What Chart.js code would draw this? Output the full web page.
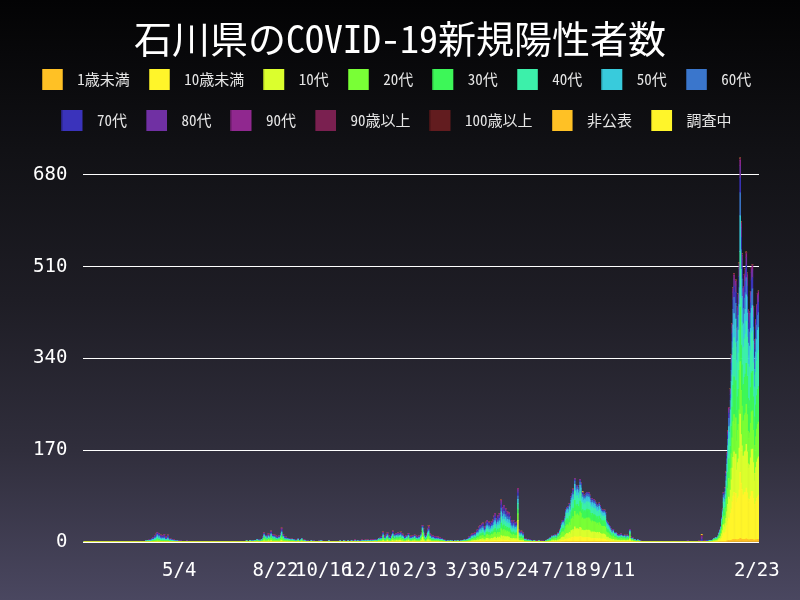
<!DOCTYPE html>
<html lang="ja">
<head>
<meta charset="utf-8">
<title>石川県のCOVID-19新規陽性者数</title>
<script src="https://cdn.jsdelivr.net/npm/chart.js@4.4.1/dist/chart.umd.min.js"></script>
<style>
  html, body { margin: 0; padding: 0; background: #1b1a21; }
  #wrap { width: 800px; height: 600px; }
</style>
</head>
<body>
<div id="wrap"><canvas id="myChart" width="800" height="600"></canvas></div>
<script>
// daily new cases, one list per age group: [first day, counts for consecutive days]
const seriesLabels = ["1歳未満", "10歳未満", "10代", "20代", "30代", "40代", "50代", "60代",
  "70代", "80代", "90代", "90歳以上", "100歳以上", "非公表", "調査中"];
const seriesColors = ["#ffc125", "#fff52a", "#dbff2d", "#79ff36", "#3df758", "#3cf0aa", "#38cbdc", "#3a76cc",
  "#3a33bb", "#7030a3", "#90288f", "#7a2050", "#621c1f", "#ffc125", "#fff52a"];

const tickDates = ["2020-05-04", "2020-08-22", "2020-10-16", "2020-12-10", "2021-02-03",
  "2021-03-30", "2021-05-24", "2021-07-18", "2021-09-11", "2022-02-23"];

const under1 = [
  ["2021-04-20", [1]], ["2021-05-09", [1]], ["2021-05-14", [1]],
  ["2021-07-13", [0,0,0,0,0,0,1, 0,1,0,1,1,0, 1,1,1,0, 1,1, 1,1,1,1, 1,1, 1,1,1,1,1,1, 1,1,1,1,
    1,0,1,1,1,0, 1,1,1,0,1,1, 0,1,0,1,0,1, 0,0,1,0,0]],
  ["2021-12-31", [0,0,0,0,0,0,0,0,0,0, 0,0,0,0,0,1,1,1,1,1, 2,2,3,2,3,3,4,5,5,4,
    5,4,4,5,5,7,6,5,5,5, 5,5,6,5,4,4,4,5,5,5, 4,3,4,4,4,5,5]]
];

const under10 = [
  ["2020-08-17", [1]], ["2020-08-29", [1]],
  ["2020-12-17", [0,0,0,0,0,0,1,0,0,0,0,1,0,0,0,
    0,0,1,0,0,0,1,0,1,0,1,1,0,0,0,0,0,0,1,0,1,0,0,0,0,1,0,0,0,0,0,
    0,0,0,0,1,1,1,0,0,0,0,1,1,0,0,0,0,0,0,0,0,0,0,0,0,0,0,0]],
  ["2021-03-30", [0,0,0,0,1,1,1,1,1,1, 1,1,1,1,2,1,2,2,1,1, 1,2,2,2,2,1,2,2,2, 2,3,3,2,2,3,2,3,2,
    4, 3,3,3,3,3, 3,3,3,3,2, 2,2,2,2,2,2,2, 2,4, 1,1,1,1,1,1]],
  ["2021-07-03", [0,1,0,1,0,1,0,1,1,1, 2,2,3,3,3,3,4, 5,5,5,5,6,5, 7,7,8,7, 9,8, 8,8,8,8, 9,9,
    7,7,7,7,7,7, 7,7,7,7, 6,6,6,6,6,6, 6,5,6,5,6,5, 5,5,5,5,5,4, 3,3,3,2,2, 2,2,1,2,1,1,1,1,
    1,1,1,1,1,1,1,1,1,1,1,1,1,1,2, 1,0,1,0,0,0,0,0,0,0,0,0,0,0,0,0,0,0,0]],
  ["2021-12-31", [0,0,0,0,0,1,0,1,1,1, 2,3,3,5,7,10,16,14,17,23, 28,36,42,41,50,59,71,80,87,79,
    85,69,77,79,91,122,103,92,83,82, 87,87,94,86,76,70,75,80,89,89, 77,58,66,71,77,79,82]]
];

const teens = [
  ["2020-04-09", [1]],
  ["2020-07-18", [0,0,0,0,0,0,0,0,0,0,0,0,0,0,1,0,0,0,0,1,0,
    1,2,1,1,1,1,2,1,1,2,1,1,1,1,1,1,1,1,1,1,2,2,1,1,1,1,1,0,1,0,1,
    0,0,1,0,0,0,0,0,0,1,0,0,0,1,0,0,0,0,0,0]],
  ["2020-12-17", [0,1,0,1,1,1,2,1,1,1,1,2,1,1,1,
    1,2,2,1,2,1,2,1,2,1,2,2,1,2,1,1,1,1,1,1,2,1,1,1,1,1,1,2,1,1,1,
    1,1,1,2,2,8,3,2,1,1,2,3,3,2,2,1,1,1,1,1,1,1,1,1,0,1,0,1, 0,0,0,0,0,0]],
  ["2021-03-29", [1, 0,1,1,1,1,1,1,2,2,1, 2,3,2,3,3,3,4,4,3,3, 3,4,5,4,4,3,4,5,4, 5,5,6,5,5,6,5,6,5,
    8, 6,7,8,6,7, 6,6,6,6,5, 5,4,4,5,4,4,4, 4,36, 2,2,2,2,1,2]],
  ["2021-06-29", [1,0,1,1]],
  ["2021-07-03", [1,2,1,2,1,2,1,2,3,2, 3,4,5,6,6,5,7, 9,10,10,9,11,10, 13,13,14,13, 18,16, 15,16,15,14,
    17,16, 13,14,13,13,13,14, 14,13,14,13, 12,11,12,11,12,12, 11,10,11,10,11,10, 9,9,9,9,9,8,
    6,5,5,5,4, 4,3,3,3,3,2,3,2, 2,2,2,1,2,2,1,2,2,1,1,2,1,2,4, 1,1,1,0,1,1,1,0,1,0,0,0,0,0,0,0,0,0,0]],
  ["2021-12-31", [0,0,0,1,0,1,1,1,1,1, 2,3,4,5,8,10,15,13,16,20, 26,32,38,36,43,53,62,72,75,71,
    73,60,66,70,78,108,90,81,71,72, 75,77,81,76,65,62,64,71,77,78, 66,52,57,63,67,70,71]]
];

const age20s = [
  ["2020-03-27", [1,0,1,0,1,0,1,1,2,1, 2,2,2,3,2,3,2,2,1,2, 1,2,1,2,1,2,1,1,1,0, 1,0,1,0,0,1,0,0,0,0, 1,0,0]],
  ["2020-07-18", [1,0,1,0,0,0,1,1,0,1,0,1,1,0,1,1,1,0,1,1,1,
    2,4,2,3,2,2,3,2,3,4,3,3,2,3,2,2,2,2,3,2,3,5,3,3,2,2,2,1,2,1,1,
    1,1,1,1,1,1,0,1,1,1,1,0,1,2,1,0,1,1,0,0]],
  ["2020-09-28", [1,0,0,1,1,0,0,1,0,0,0,0,0,1,0,1,1,0,0,0,0,0,1,0,1,0,0,0,0,0,1,0,0,0,
    0,1,0,1,0,0,0,1,1,0,0,0,1,0,0,1,1,0,1,0,1,1,0,1,1,0,1,0,1,1,
    1,1,1,0,1,1,1,1,1,1,1,1,1,2,1,1]],
  ["2020-12-17", [1,2,1,2,2,2,4,2,2,1,3,3,2,2,2,
    2,3,4,2,3,2,3,2,3,2,3,4,2,3,3,2,2,2,2,2,3,2,2,2,1,2,2,3,2,2,2,
    2,2,2,3,4,7,5,3,2,2,3,4,6,3,3,2,2,2,2,2,1,2,1,2,1,1,1,1, 1,1,1,0,1,0]],
  ["2021-03-07", [1,0,0,1,0,1,0,0,1,0,0,1,1,0,0,1,0,1,1,1,1,0,1,
    1,2,2,2,2,3,2,3,3,2, 4,4,4,5,6,5,6,6,5,5, 5,6,7,6,7,5,6,7,7, 8,9,9,8,7,9,8,9,8, 13,
    10,11,12,10,11, 9,10,9,10,9, 7,7,6,7,6,6,6, 7,12, 4,4,3,4,3,3,
    2,1,2,1,1,1,1,1,1,0,1,1,1,0,0,1,0,1,0,0,1,0,1,0,0,1,1,1,1,2,2]],
  ["2021-07-03", [2,3,2,3,3,4,2,3,5,4, 6,7,9,10,10,8,11, 15,16,17,15,18,16, 21,23,24,22, 29,26,
    25,27,25,24, 29,27, 22,23,21,22,21,22, 23,22,23,22, 20,19,20,19,19,19, 18,17,17,16,18,17,
    16,14,15,14,15,14, 10,9,8,8,7, 6,5,4,6,4,4,4,3, 3,2,3,2,4,3,2,3,3,2,2,3,2,2,5,
    2,1,2,1,1,1,0,1,1,0,1,0,0,1,0,0,1,0,0]],
  ["2021-10-24", [1]], ["2021-11-06", [1]], ["2021-12-10", [1]],
  ["2021-12-31", [1,1,0,1,1,2,1,2,2,2, 3,4,5,6,9,11,15,13,15,19, 24,29,35,33,40,49,56,66,69,64,
    67,55,60,64,71,97,82,74,65,66, 68,70,74,69,60,56,59,64,70,71, 60,47,52,57,61,64,64]]
];

const age30s = [
  ["2020-03-27", [0,0,1,0,0,1,0,1,1,1, 1,1,2,2,1,2,1,1,1,1, 1,1,1,1,0,1,1,0,1,1, 0,1,0,0,1,0,0,0,0,0, 0,0,0]],
  ["2020-06-23", [1]],
  ["2020-07-18", [0,0,1,0,0,1,1,0,0,0,0,1,0,0,1,0,1,0,0,1,1,
    2,3,1,2,1,2,2,2,2,3,2,2,2,2,1,2,1,1,2,1,2,4,2,2,1,1,1,1,1,1,1,
    1,1,1,0,1,1,0,0,1,1,0,0,1,1,0,0,1,0,0,0]],
  ["2020-12-17", [1,1,0,1,1,1,2,1,2,1,2,2,1,2,1,
    1,2,3,1,2,1,2,2,2,1,2,2,2,2,2,1,1,2,2,1,2,1,1,2,1,2,1,2,1,2,1,
    1,2,1,2,2,5,3,2,2,1,2,3,4,2,2,2,1,2,1,1,1,1,1,1,1,1,0,1, 1,0,1,0,0,0]],
  ["2021-03-07", [0,1,0,1,0,0,0,1,0,0,0,1,0,0,1,0,0,1,0,1,1,1,1,
    1,1,1,1,2,2,1,2,2,2, 3,3,3,4,4,3,4,5,4,3, 4,5,5,4,5,4,4,5,5, 5,6,7,6,5,6,6,7,6, 10,
    8,8,9,7,8, 7,7,6,7,6, 5,5,5,5,4,5,4, 5,9, 3,3,2,3,2,2,
    1,1,1,1,1,1,0,1,0,0,0,1,0,0,0,0,0,1,0,0,0,0,0,0,0,1,0,1,1,1,2]],
  ["2021-07-03", [1,2,1,2,2,2,2,2,3,3, 4,5,6,6,7,6,8, 10,11,11,10,12,11, 14,15,16,15, 20,18,
    17,18,17,16, 20,19, 15,15,14,15,14,15, 16,15,15,15, 14,13,14,13,13,13, 12,12,12,11,12,11,
    11,10,10,10,10,9, 7,6,6,5,5, 4,3,3,4,3,3,3,2, 2,2,2,2,2,2,1,2,2,1,2,2,1,2,4,
    1,1,1,1,1,1,0,0,1,0,0,1,0,0,0,0,0,0,0]],
  ["2021-10-29", [1]], ["2021-11-20", [1]],
  ["2021-12-31", [1,0,1,0,1,1,1,2,1,2, 2,3,4,5,8,10,14,13,15,19, 24,30,36,34,41,50,57,67,70,66,
    69,56,62,65,73,101,84,76,66,67, 70,72,76,71,61,57,60,66,72,73, 62,48,53,59,62,65,66]]
];

const age40s = [
  ["2020-02-23", [1]],
  ["2020-03-27", [1,0,0,1,1,0,1,1,1,1, 2,2,2,3,2,2,2,2,1,2, 2,2,1,1,1,2,1,1,1,1, 1,0,1,1,0,0,1,0,1,0, 0,0,0]],
  ["2020-07-18", [0,0,0,1,0,0,1,0,1,0,0,0,1,0,1,0,0,0,0,1,0,
    1,2,1,2,1,1,2,1,2,2,1,2,1,2,1,1,1,1,1,1,2,3,2,2,1,1,1,1,1,1,1,
    1,0,1,1,1,0,1,0,0,1,1,0,1,1,0,1,0,0,1,0]],
  ["2020-09-28", [0,1,0,0,1,0,0,0,1,0,0,1,0,0,0,1,0,1,0,0,0,0,0,0,1,0,0,0,0,0,0,0,0,0,
    0,0,0,1,0,0,0,1,0,0,0,0,1,0,0,0,1,0,0,1,1,0,0,1,0,1,0,0,1,0,
    1,0,1,0,1,1,0,1,1,0,1,1,1,1,1,1]],
  ["2020-12-17", [1,1,1,1,1,1,2,1,1,1,2,2,1,1,1,
    1,2,2,1,2,1,2,1,2,1,2,2,1,2,2,1,1,1,1,1,2,1,1,1,1,1,1,2,1,1,1,
    1,1,1,2,2,3,3,2,1,1,2,3,3,2,2,1,1,2,1,1,1,1,1,1,1,1,1,1, 1,0,1,0,0,0]],
  ["2021-03-07", [1,0,0,0,1,0,0,0,1,0,0,0,0,0,0,1,0,0,1,1,0,0,1,
    1,1,2,1,2,2,2,2,2,2, 3,3,3,4,4,4,5,5,4,4, 4,5,6,5,5,4,5,5,5, 6,7,7,6,6,7,7,7,6, 11,
    8,9,10,8,9, 7,8,7,8,7, 6,5,5,6,5,5,5, 5,10, 3,3,3,3,2,2,
    1,1,1,1,0,1,0,1,1,0,0,0,1,0,0,0,0,0,0,0,0,1,0,0,0,0,0,1,0,1,1]],
  ["2021-07-03", [1,1,1,2,1,2,1,2,2,2, 3,4,5,6,6,5,7, 9,10,10,9,10,10, 13,14,15,13, 18,16,
    15,16,15,15, 17,17, 13,14,13,13,13,14, 14,13,14,13, 12,12,12,11,12,12, 11,10,10,10,11,10,
    10,9,9,8,9,8, 6,6,5,5,4, 4,3,3,3,3,2,3,2, 2,2,2,2,2,2,1,1,2,1,1,2,1,2,3,
    1,1,1,0,0,1,0,1,0,0,1,0,0,0,0,0,0,0,0]],
  ["2021-11-02", [1]], ["2021-12-03", [1]],
  ["2021-12-16", [0,0,0,0,0,0,0,0,0,0,0,1,1,1,1]],
  ["2021-12-31", [0,1,0,1,1,1,1,1,1,1, 1,2,3,4,6,9,13,12,15,19, 25,30,37,35,42,51,59,69,72,68,
    70,57,63,67,75,103,86,78,68,69, 72,74,78,72,63,59,62,68,74,75, 63,49,54,60,64,67,67]]
];

const age50s = [
  ["2020-02-21", [1,0,0,0,0,1,0,1]],
  ["2020-03-27", [0,1,1,0,1,1,1,1,1,1, 2,2,2,3,2,3,2,2,2,2, 2,2,1,1,1,2,1,1,1,1, 1,1,0,0,1,0,1,0,0,1, 0,0,0]],
  ["2020-05-15", [1]],
  ["2020-07-18", [0,0,0,0,0,0,0,1,0,1,0,1,0,1,0,0,1,0,1,0,0,
    1,2,1,2,1,1,2,1,1,2,1,2,1,1,1,1,1,1,1,1,2,3,1,2,1,1,1,1,1,1,1,
    1,1,1,0,1,1,0,1,1,1,0,1,1,1,1,0,1,1,0,0]],
  ["2020-12-17", [1,1,0,1,1,1,2,1,1,1,2,2,1,1,1,
    1,2,2,1,2,1,2,2,2,1,2,2,2,2,1,1,1,1,2,1,2,1,1,1,1,1,1,1,1,1,1,
    1,2,1,2,2,2,3,2,2,1,2,3,3,2,1,1,1,1,1,1,1,1,1,1,1,1,1,1, 1,1,0,1,0,0]],
  ["2021-03-07", [0,0,0,1,0,1,0,0,0,0,1,0,1,0,0,0,1,0,0,1,0,0,1,
    1,1,1,1,2,2,1,2,2,2, 3,3,3,4,4,3,4,4,4,3, 4,5,5,4,5,4,4,5,5, 5,6,7,6,5,6,6,7,6, 10,
    7,8,9,7,8, 7,7,6,7,6, 5,5,4,5,4,5,4, 5,8, 3,2,2,2,2,2,
    1,1,1,0,0,1,0,0,0,0,0,0,0,0,0,0,1,0,0,0,0,0,0,0,1,0,0,0,0,1,1]],
  ["2021-07-03", [1,1,0,1,1,1,1,1,1,1, 2,3,3,4,4,3,5, 6,6,7,6,7,7, 8,9,10,9, 12,10,
    10,11,10,10, 12,11, 9,9,8,9,9,9, 9,9,9,9, 8,8,8,7,8,8, 7,7,7,7,7,7,
    6,6,6,6,6,6, 4,4,3,3,3, 2,2,2,2,2,2,2,2, 1,1,1,1,1,1,1,1,1,1,1,1,1,1,2,
    1,0,0,0,1,0,0,0,1,0,0,0,0,0,0,0,0,0,0]],
  ["2021-12-31", [1,0,0,0,1,0,1,1,1,1, 1,1,2,2,4,5,8,8,9,12, 15,19,23,22,26,32,37,43,45,42,
    44,36,40,42,47,66,54,49,43,43, 45,46,49,45,39,37,39,42,46,47, 40,31,34,38,40,42,42]]
];

const age60s = [
  ["2020-03-10", [1]], ["2020-03-21", [1]],
  ["2020-03-27", [0,0,0,1,0,1,1,1,1,1, 2,1,2,2,2,2,1,2,1,1, 1,2,1,1,1,2,1,0,1,0, 1,0,1,0,0,1,0,1,0,0, 0,1,0]],
  ["2020-05-13", [1]],
  ["2020-07-18", [0,0,0,0,0,0,0,0,0,0,0,0,0,0,1,1,1,0,0,0,1,
    1,1,1,1,1,1,1,1,1,2,1,1,1,1,1,1,0,1,1,1,2,2,1,1,1,1,1,1,0,1,0,
    1,0,0,0,1,0,0,0,0,1,0,0,0,0,0,1,0,0,1,0]],
  ["2020-09-28", [1,0,0,0,1,0,0,1,0,0,0,0,0,1,0,0,1,0,0,1,0,0,0,0,0,1,0,0,1,0,0,0,0,1,
    0,0,0,0,1,0,0,1,0,1,0,0,0,1,0,0,1,1,0,0,1,1,0,0,1,0,1,1,1,0,
    0,1,1,0,0,1,1,0,1,0,1,0,1,1,0,1]],
  ["2020-12-17", [0,1,1,1,1,1,2,1,1,1,1,2,1,1,1,
    1,1,2,1,1,1,1,1,2,1,1,2,1,1,1,1,1,1,1,1,1,1,1,1,0,1,1,1,1,1,0,
    1,1,1,1,2,2,2,1,1,1,1,2,3,2,1,1,1,1,1,1,1,1,0,1,0,1,1,0, 0,1,0,1,1,0]],
  ["2021-03-07", [0,0,0,0,0,0,0,0,0,0,0,1,0,0,0,0,0,1,0,0,0,1,0,
    1,1,1,1,1,1,1,1,2,1, 2,2,2,2,3,2,3,3,2,2, 3,3,4,3,3,2,3,3,3, 4,4,5,4,4,4,4,5,4, 7,
    5,6,6,5,5, 5,5,4,5,4, 4,3,3,4,3,3,3, 3,6, 2,2,2,2,1,2,
    1,0,0,0,1,0,1,0,0,1,0,0,0,0,0,0,0,0,0,0,0,0,0,0,0,0,0,0,1,0,1]],
  ["2021-07-03", [0,1,0,1,0,1,0,1,1,1, 1,1,2,2,2,2,2, 3,3,3,3,4,3, 4,5,5,4, 6,5,
    5,5,5,5, 6,6, 4,5,4,4,4,5, 5,4,5,4, 4,4,4,4,4,4, 4,3,4,3,4,3,
    3,3,3,3,3,3, 2,2,2,2,2, 1,1,1,1,1,1,1,1, 1,1,1,0,1,0,1,0,1,1,1,0,1,0,1,
    0,1,0,0,0,0,1,0,0,0,0,0,0,0,0,0,0,0,0]],
  ["2021-11-12", [1]], ["2021-12-01", [1]],
  ["2021-12-16", [0,0,0,0,0,0,2,1,0,0,1,0,1,0,1]],
  ["2021-12-31", [0,0,0,0,0,0,0,0,0,0, 1,1,1,1,2,3,5,5,6,8, 10,12,15,14,17,21,25,29,30,28,
    29,24,26,28,31,43,36,32,29,29, 30,31,32,30,26,25,26,28,31,31, 26,21,23,25,27,28,28]]
];

const age70s = [
  ["2020-03-27", [0,0,0,0,1,0,1,1,1,1, 1,1,2,2,2,2,1,2,1,2, 1,2,1,1,1,2,1,1,0,1, 0,1,0,1,0,0,1,0,0,0, 1,0,0]],
  ["2020-05-13", [1]], ["2020-05-29", [1]],
  ["2020-07-18", [0,0,0,0,0,0,0,0,0,0,0,0,0,0,0,0,0,1,0,0,0,
    1,1,0,1,1,1,1,1,1,2,1,1,1,1,0,1,1,1,1,1,1,2,1,1,1,1,1,0,1,0,1,
    0,1,0,1,0,1,0,0,0,0,1,0,0,0,1,0,0,1,0,1]],
  ["2020-12-17", [1,0,0,1,1,1,1,1,1,0,1,1,1,1,1,
    1,1,2,1,1,1,1,1,1,1,1,1,1,1,1,1,1,1,1,0,1,1,1,1,1,1,1,1,1,1,1,
    1,1,1,1,1,1,2,1,1,1,1,2,2,1,1,1,1,1,0,1,0,1,1,0,1,0,0,1, 1,0,0,0,1,0]],
  ["2021-03-07", [0,0,0,0,0,0,0,0,0,0,0,0,0,0,0,0,0,0,0,0,1,0,0,
    1,1,1,1,1,1,1,1,1,1, 1,2,2,2,2,2,2,3,2,2, 2,3,3,3,3,2,3,3,3, 3,4,4,3,3,4,4,4,3, 6,
    5,5,5,4,5, 4,4,4,4,4, 3,3,3,3,3,3,2, 3,6, 2,1,1,1,1,1,
    0,1,0,0,0,0,0,1,0,0,1,0,0,1,0,0,0,0,1,0,0,0,1,0,0,0,0,0,0,0,0]],
  ["2021-07-03", [1,0,0,0,1,0,1,0,0,0, 0,1,1,1,1,1,1, 1,1,1,1,1,2, 2,2,2,2, 2,2,
    2,2,2,2, 2,2, 2,2,2,2,2,2, 2,2,2,2, 2,2,2,2,2,1, 1,2,1,2,1,2,
    1,1,1,1,1,1, 1,1,1,1,1, 1,1,1,1,0,1,0,1, 1,0,1,1,1,0,1,1,0,1,1,1,1,1,1,
    1,0,1,0,0,1,0,1,0,0,1,0,0,0,0,0,0,0,0]],
  ["2021-11-16", [1]], ["2021-12-06", [2]],
  ["2021-12-16", [0,1,0,1,0,1,3,1,0,0,0,0,1,0,1]],
  ["2021-12-31", [0,0,0,0,0,0,0,0,0,0, 0,0,0,1,1,1,3,3,4,5, 6,8,10,9,11,14,16,19,20,19,
    20,16,18,19,21,28,24,22,19,19, 20,21,22,20,17,16,17,19,21,21, 18,14,15,17,18,19,19]]
];

const age80s = [
  ["2020-03-27", [0,0,0,0,0,0,0,0,1,1, 1,1,2,1,2,1,1,1,1,1, 1,2,1,1,1,1,1,1,1,0, 1,0,1,0,1,0,0,0,1,0, 0,0,0]],
  ["2020-05-10", [1]], ["2020-05-19", [1]],
  ["2020-08-08", [1,1,1,0,1,1,1,0,1,1,1,1,1,1,1,1,0,1,1,1,1,2,1,1,1,0,1,1,0,0,1,
    0,0,1,0,0,0,1,0,1,0,0,1,0,1,0,0,1,0,0,0]],
  ["2020-09-28", [0,0,0,0,0,1,0,0,0,0,0,0,0,0,1,1,0,0,0,0,0,0,0,0,0,0,0,0,0,0,0,0,0,0,
    0,0,0,0,0,0,1,0,1,0,0,1,0,0,0,1,0,0,1,0,1,0,1,1,0,1,1,0,1,1,
    1,0,1,1,1,1,0,1,1,1,1,1,1,1,1,1]],
  ["2020-12-17", [0,0,1,0,1,1,1,0,1,1,1,1,1,1,1,
    0,1,1,1,0,1,1,1,1,1,1,1,1,1,1,1,1,1,1,1,1,1,1,1,0,1,1,1,1,1,1,
    1,1,1,1,1,1,2,1,1,1,1,2,2,1,1,1,1,1,1,1,1,1,1,1,1,1,0,1, 0,0,1,0,0,1]],
  ["2021-03-07", [0,0,0,0,0,0,0,0,0,0,0,0,0,0,0,0,0,0,0,1,0,0,0,
    0,1,1,1,1,1,1,1,1,1, 1,1,1,2,2,1,2,2,2,1, 2,2,2,2,2,2,2,2,2, 2,3,3,3,2,3,3,3,3, 5,
    3,4,4,3,4, 3,3,3,3,3, 2,2,2,2,2,2,2, 2,5, 1,1,1,1,1,1,
    0,0,1,0,0,1,0,0,1,0,0,1,0,0,0,1,0,1,0,0,1,0,0,0,0,1,1,0,0,0,0]],
  ["2021-07-03", [1,0,1,0,0,1,0,0,1,0, 1,0,1,1,1,1,1, 1,1,1,1,1,1, 1,1,2,1, 2,2,
    2,1,2,1, 2,1, 1,1,1,1,1,1, 1,1,1,1, 1,1,1,1,1,1, 1,1,1,1,1,1,
    1,1,1,1,1,1, 1,1,1,0,1, 1,1,1,1,1,1,1,1, 1,1,1,1,1,1,1,1,1,0,1,1,1,1,1,
    1,0,1,0,1,0,0,0,1,0,0,1,0,0,0,1,0,0,1]],
  ["2021-11-26", [1]], ["2021-12-12", [1]],
  ["2021-12-16", [0,0,0,1,1,1,3,0,1,0,1,0,0,1,0]],
  ["2021-12-31", [0,0,0,0,0,0,0,0,0,0, 0,0,0,0,0,1,1,2,2,3, 4,5,6,6,7,9,11,13,14,13,
    14,11,12,13,15,22,17,15,13,13, 14,14,15,14,12,11,12,13,14,14, 12,9,10,11,12,13,13]]
];

const age90s = [
  ["2020-04-06", [1,0,1,1,1,1,1,1,1,1,1,1,1,1,0,1]],
  ["2020-05-24", [1]],
  ["2020-08-08", [0,1,0,0,0,1,1,1,1,1,1,1,0,1,0,1,0,0,1,1,1,2,1,1,1,0,0,0,0,0,0]],
  ["2020-12-17", [0,0,0,0,0,1,1,0,1,0,1,1,0,1,1,
    0,0,1,1,1,0,1,1,1,1,1,1,1,1,1,1,0,1,0,0,1,1,0,1,0,1,0,0,1,1,0,
    1,1,0,0,1,1,1,1,1,1,1,1,2,1,1,1,0,1,0,1,0,1,0,1,0,1,0,0]],
  ["2021-03-30", [0,0,0,0,0,1,0,1,1,0, 1,1,0,1,1,1,1,1,1,1, 1,1,1,1,1,1,1,1,1, 1,1,2,1,1,1,1,2,1,
    3, 2,2,2,1,2, 1,2,1,1,1, 1,1,1,1,1,1,1, 1,3, 1,0,1,1,0,1]],
  ["2021-06-09", [1]], ["2021-06-14", [1]],
  ["2021-07-28", [1]], ["2021-08-05", [1]], ["2021-08-14", [1]],
  ["2021-12-21", [1,2]],
  ["2021-12-31", [0,0,0,0,0,0,0,0,0,0, 0,0,0,0,0,0,0,0,1,1, 1,2,3,2,3,4,5,6,7,6,
    7,5,6,6,7,10,8,7,6,6, 7,7,7,7,6,5,6,6,7,7, 6,4,5,5,6,6,6]]
];

const over90 = [
  ["2020-12-23", [1]], ["2021-01-12", [1]], ["2021-02-13", [1]], ["2021-02-21", [1]],
  ["2021-04-14", [1]], ["2021-04-24", [1]], ["2021-05-02", [1,0,1]], ["2021-05-07", [1]],
  ["2021-05-11", [1]], ["2021-05-20", [1]],
  ["2021-12-22", [2]],
  ["2021-12-31", [0,0,0,0,0,0,0,0,0,0, 0,0,0,0,0,0,0,0,0,0, 1,1,1,1,1,2,2,2,3,2,
    2,2,2,2,3,4,3,3,2,2, 3,3,3,3,2,2,2,2,3,3, 2,2,2,2,2,2,2]]
];

const over100 = [["2020-06-06", [1]]];
const undisclosed = [["2021-02-13", [1]], ["2021-04-08", [1]], ["2021-08-08", [2]], ["2021-12-22", [2]]];
const investigating = [];

const allSeries = [under1, under10, teens, age20s, age30s, age40s, age50s, age60s,
  age70s, age80s, age90s, over90, over100, undisclosed, investigating];

// one category per day, 2020-01-16 .. 2022-02-25
const firstDay = Date.UTC(2020, 0, 16);
const dayCount = 772;
const dates = [];
for (let i = 0; i < dayCount; i++) {
  dates.push(new Date(firstDay + i * 864e5).toISOString().slice(0, 10));
}

function expand(segments) {
  const out = new Array(dayCount).fill(0);
  segments.forEach(function (seg) {
    const i0 = Math.round((Date.parse(seg[0]) - firstDay) / 864e5);
    seg[1].forEach(function (v, k) { out[i0 + k] += v; });
  });
  return out;
}

function legendBox(color) {
  // 21x21 swatch drawn on the left of a wider transparent image (adds the gap before the text)
  const c = document.createElement("canvas");
  c.width = 35; c.height = 21;
  const g = c.getContext("2d");
  g.fillStyle = color;
  g.fillRect(0, 0, 21, 21);
  g.fillStyle = "rgba(0,0,0,0.3)";
  g.fillRect(0, 0, 1, 21);
  return c;
}

const bgPlugin = {
  id: "bg",
  beforeDraw: function (chart) {
    const ctx = chart.ctx;
    const grad = ctx.createLinearGradient(0, 0, 0, chart.height);
    grad.addColorStop(0, "#030304");
    grad.addColorStop(0.25, "#111115");
    grad.addColorStop(0.5, "#1e1d25");
    grad.addColorStop(0.75, "#302e3c");
    grad.addColorStop(1, "#4a4760");
    ctx.save();
    ctx.fillStyle = grad;
    ctx.fillRect(0, 0, chart.width, chart.height);
    ctx.restore();
  }
};

const cjkMono = '"Noto Sans Mono CJK JP", "Noto Sans CJK JP", sans-serif';
const tickFont = { family: '"DejaVu Sans Mono", monospace', size: 19 };

const ctx = document.getElementById("myChart").getContext("2d");
const myChart = new Chart(ctx, {
  type: "bar",
  data: {
    labels: dates,
    datasets: allSeries.map(function (s, i) {
      return {
        label: seriesLabels[i],
        data: expand(s),
        backgroundColor: seriesColors[i],
        borderWidth: 0,
        barPercentage: 1.0,
        categoryPercentage: 1.0
      };
    })
  },
  plugins: [bgPlugin],
  options: {
    responsive: false,
    animation: false,
    layout: { padding: { left: 0, right: 0, top: 0, bottom: 18 } },
    plugins: {
      title: {
        display: true,
        text: "石川県のCOVID-19新規陽性者数",
        color: "#ffffff",
        font: { family: cjkMono, size: 38, weight: "normal", lineHeight: 0.4 },
        padding: { top: 31, bottom: 0 }
      },
      legend: {
        display: true,
        labels: {
          color: "#e6e6e6",
          font: { family: cjkMono, size: 15 },
          usePointStyle: true,
          pointStyleWidth: 21,
          padding: 26,
          generateLabels: function (chart) {
            return chart.data.datasets.map(function (ds, i) {
              return {
                text: ds.label,
                pointStyle: legendBox(ds.backgroundColor),
                fillStyle: ds.backgroundColor,
                strokeStyle: ds.backgroundColor,
                lineWidth: 0,
                fontColor: "#e6e6e6",
                hidden: !chart.isDatasetVisible(i),
                datasetIndex: i
              };
            });
          }
        }
      },
      tooltip: { enabled: false }
    },
    scales: {
      x: {
        stacked: true,
        grid: { display: false },
        border: { display: false },
        ticks: {
          color: "#ffffff",
          font: tickFont,
          padding: 10,
          autoSkip: false,
          maxRotation: 0,
          minRotation: 0,
          callback: function (value) {
            const d = this.getLabelForValue(value);
            if (tickDates.indexOf(d) < 0) return "";
            return Number(d.slice(5, 7)) + "/" + Number(d.slice(8, 10));
          }
        },
        afterFit: function (scale) { scale.height = 40; }
      },
      y: {
        stacked: true,
        min: 0,
        max: 748,
        grid: { color: "#ffffff", lineWidth: 1, drawTicks: false },
        border: { display: false },
        ticks: { color: "#ffffff", font: tickFont, padding: 16, stepSize: 170 },
        afterBuildTicks: function (scale) {
          scale.ticks = scale.ticks.filter(function (t) { return t.value % 170 === 0; });
        },
        afterFit: function (scale) { scale.width = 83.4; }
      },
      yRight: {
        position: "right",
        grid: { display: false },
        border: { display: false },
        ticks: { display: false },
        afterFit: function (scale) { scale.width = 41; }
      }
    }
  }
});
</script>
</body>
</html>
